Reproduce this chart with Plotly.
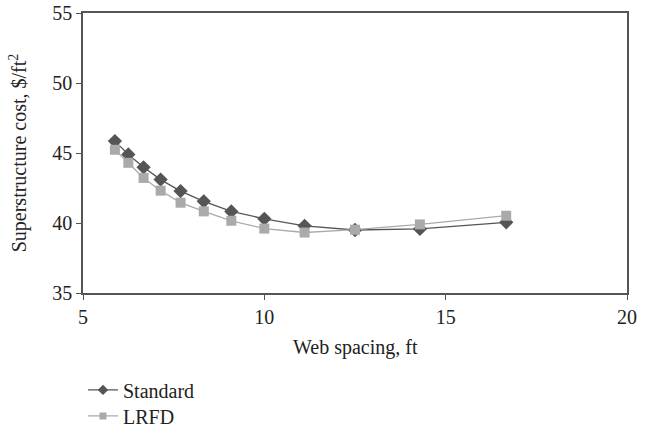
import plotly.graph_objects as go

web_spacing = [5.88, 6.25, 6.67, 7.14, 7.69, 8.33, 9.09, 10.0, 11.11, 12.5, 14.29, 16.67]
standard = [45.85, 44.9, 43.98, 43.1, 42.28, 41.55, 40.83, 40.3, 39.8, 39.5, 39.58, 40.05]
lrfd = [45.23, 44.3, 43.22, 42.31, 41.45, 40.83, 40.16, 39.6, 39.32, 39.52, 39.9, 40.52]

series_names = ["Standard", "LRFD"]
series_colors = ["#555555", "#aaaaaa"]

font_family = "Liberation Serif, DejaVu Serif, serif"

fig = go.Figure()
# data traces
fig.add_trace(go.Scatter(
    x=web_spacing, y=standard, name=series_names[0], mode="lines+markers",
    line=dict(color=series_colors[0], width=1.3),
    marker=dict(symbol="diamond", size=11, color=series_colors[0]),
    showlegend=False,
))
fig.add_trace(go.Scatter(
    x=web_spacing, y=lrfd, name=series_names[1], mode="lines+markers",
    line=dict(color=series_colors[1], width=1.3),
    marker=dict(symbol="square", size=10, color=series_colors[1]),
    showlegend=False,
))
# legend entries (small symbols like the reference)
fig.add_trace(go.Scatter(
    x=[None], y=[None], name=series_names[0], mode="lines+markers",
    line=dict(color=series_colors[0], width=1.3),
    marker=dict(symbol="diamond", size=8, color=series_colors[0]),
    legend="legend",
))
fig.add_trace(go.Scatter(
    x=[None], y=[None], name=series_names[1], mode="lines+markers",
    line=dict(color=series_colors[1], width=1.3),
    marker=dict(symbol="square", size=7, color=series_colors[1]),
    legend="legend2",
))

legend_common = dict(xanchor="left", yanchor="middle", font=dict(size=20),
                     bgcolor="rgba(0,0,0,0)")

axis_common = dict(showgrid=False, zeroline=False, showline=True, mirror=True,
                   linecolor="#555555", linewidth=1.5, automargin=False,
                   ticks="outside", ticklen=5, tickcolor="#555555", tickwidth=1.2,
                   tickfont=dict(size=20))

fig.update_layout(
    width=648, height=427,
    paper_bgcolor="white", plot_bgcolor="white",
    margin=dict(l=83, r=21, t=13, b=134, autoexpand=False),
    font=dict(family=font_family, size=20, color="#222222"),
    showlegend=True,
    legend=dict(x=0.0, y=-0.346, **legend_common),
    legend2=dict(x=0.0, y=-0.439, **legend_common),
    xaxis=dict(range=[5, 20], tickvals=[5, 10, 15, 20], **axis_common),
    yaxis=dict(range=[35, 55], tickvals=[35, 40, 45, 50, 55], **axis_common,
               title=dict(text="Superstructure cost, $/ft<sup>2</sup>", font=dict(size=20), standoff=20)),
    annotations=[dict(text="Web spacing, ft", xref="paper", yref="paper", x=0.5, y=-0.196,
                      xanchor="center", yanchor="middle", showarrow=False, font=dict(size=20))],
)

fig.write_html("out.html", config={"displayModeBar": False},
               post_script="document.body.style.margin='0';document.body.style.overflow='hidden';")
